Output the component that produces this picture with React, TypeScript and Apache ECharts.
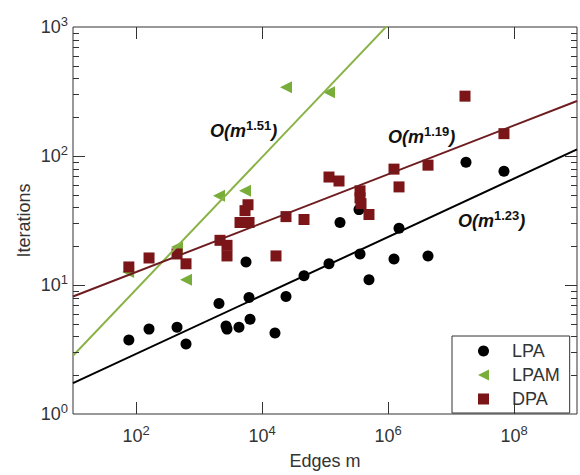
import React, { useEffect, useRef } from "react";
import * as echarts from "echarts";

// Edges m (x) and Iterations (y)
const lpaEdges = [77, 161, 448, 622, 2075, 2685, 2783, 4312, 6457, 5574, 16070, 6223, 24040, 46420, 115700, 173000, 346700, 359700, 499000, 1245000, 1496000, 4315000, 17300000, 69300000];
const lpaIters = [3.75, 4.55, 4.71, 3.49, 7.2, 4.8, 4.55, 4.71, 5.43, 15.1, 4.24, 8.0, 8.14, 11.8, 14.6, 30.5, 38.4, 17.4, 11.0, 15.9, 27.5, 16.8, 89.4, 76.3];

const lpamEdges = [75, 448, 622, 2075, 5373, 24040, 115700];
const lpamIters = [12.6, 19.7, 11.0, 49.1, 53.7, 341, 312];

const dpaEdges = [77, 161, 448, 622, 2154, 2783, 2783, 4477, 6223, 5373, 5995, 16680, 24040, 46420, 115700, 166800, 359700, 359700, 372800, 499000, 1245000, 1496000, 4315000, 16680000, 69300000];
const dpaIters = [13.8, 16.2, 17.4, 14.6, 22.2, 20.3, 16.8, 30.5, 30.5, 37.7, 41.9, 16.8, 33.9, 32.2, 68.7, 64.0, 53.7, 47.4, 42.7, 35.2, 79.1, 57.6, 84.9, 291, 149];

// fitted power-law lines (endpoints)
const fitLpa = [[10, 1.736], [1e9, 112.5]];
const fitLpam = [[10, 2.83], [1e9, 35970]];
const fitDpa = [[10, 8.14], [1e9, 267]];

const fitLabels = [
  { text: "1.51", x: 210, y: 131 },
  { text: "1.19", x: 388, y: 137 },
  { text: "1.23", x: 458, y: 221 },
];

const seriesNames = ["LPA", "LPAM", "DPA"];
const xMajorTicks = [1e2, 1e4, 1e6, 1e8];
const yMajorTicks = [10, 100];
const yDecades = [1, 10, 100];
const xRange = [10, 1e9];
const yRange = [1, 1000];

const FONT = "'Liberation Sans', Arial, sans-serif";
const AXIS = "#333";
const LEFT_TRIANGLE = "path://M0,5L10,0L10,10Z";

const zip = (a: number[], b: number[]) => a.map((v, i) => [v, b[i]]);

const powLabel = (isX: boolean) => (v: number) => {
  const e = Math.round(Math.log10(v));
  if (isX && e % 2 !== 0) return "";
  return `{b|10}{s|${e}}`;
};

const labelRich = {
  b: { fontSize: 18, fontFamily: FONT, color: AXIS, lineHeight: 24 },
  s: { fontSize: 13, fontFamily: FONT, color: AXIS, lineHeight: 6, verticalAlign: "top" },
};

export default function App() {
  const ref = useRef<HTMLDivElement>(null);
  useEffect(() => {
    const chart = echarts.init(ref.current!, undefined, { renderer: "svg" });
    const option: any = {
      animation: false,
      backgroundColor: "#fff",
      grid: { left: 73, right: 3, top: 27, bottom: 56, show: true, borderColor: AXIS, borderWidth: 1, backgroundColor: "transparent" },
      xAxis: {
        type: "log",
        logBase: 10,
        min: xRange[0],
        max: xRange[1],
        name: "Edges m",
        nameLocation: "middle",
        nameGap: 38,
        nameMoveOverlap: false,
        nameTextStyle: { fontSize: 18, fontFamily: FONT, color: AXIS },
        axisLine: { show: false },
        axisTick: { show: false },
        splitLine: { show: false },
        axisLabel: { margin: 10, formatter: powLabel(true), rich: labelRich },
      },
      yAxis: {
        type: "log",
        logBase: 10,
        min: yRange[0],
        max: yRange[1],
        name: "Iterations",
        nameLocation: "middle",
        nameGap: 40,
        nameMoveOverlap: false,
        nameTextStyle: { fontSize: 18, fontFamily: FONT, color: AXIS },
        axisLine: { show: false },
        axisTick: { show: false },
        splitLine: { show: false },
        axisLabel: { margin: 5, formatter: powLabel(false), rich: labelRich },
      },
      legend: {
        data: [
          { name: seriesNames[0], icon: "circle" },
          { name: seriesNames[1], icon: LEFT_TRIANGLE },
          { name: seriesNames[2], icon: "rect" },
        ],
        orient: "vertical",
        left: 452,
        top: 336,
        padding: [4, 10, 3, 26],
        itemGap: 2,
        itemWidth: 11,
        itemHeight: 11,
        borderColor: AXIS,
        borderWidth: 1,
        borderRadius: 0,
        backgroundColor: "#fff",
        textStyle: { fontSize: 18, fontFamily: FONT, color: AXIS, lineHeight: 22, padding: [0, 0, 0, 18] },
      },
      graphic: fitLabels.map((f) => ({
        type: "text",
        x: f.x,
        y: f.y,
        z: 10,
        style: {
          text: `{a|O(m}{b|${f.text}}{a|)}`,
          verticalAlign: "middle",
          rich: {
            a: { fontSize: 18, fontWeight: "bold", fontStyle: "italic", fontFamily: FONT, fill: "#111", lineHeight: 24 },
            b: { fontSize: 13, fontWeight: "bold", fontFamily: FONT, fill: "#111", lineHeight: 12, verticalAlign: "top" },
          },
        },
      })),
      series: [
        {
          name: "LPA",
          type: "scatter",
          symbol: "circle",
          symbolSize: 11,
          itemStyle: { color: "#000", opacity: 1 },
          data: zip(lpaEdges, lpaIters),
          z: 2,
        },
        {
          name: "LPAM",
          type: "scatter",
          symbol: "triangle",
          symbolRotate: 90,
          symbolSize: 12,
          itemStyle: { color: "#78ad3a", opacity: 1 },
          data: zip(lpamEdges, lpamIters),
          z: 2,
        },
        {
          name: "DPA",
          type: "scatter",
          symbol: "rect",
          symbolSize: 11,
          itemStyle: { color: "#7b1518", opacity: 1 },
          data: zip(dpaEdges, dpaIters),
          z: 2,
        },
        {
          name: "fitLPA",
          type: "line",
          data: fitLpa,
          showSymbol: false,
          clip: true,
          lineStyle: { color: "#000", width: 2 },
          z: 3,
        },
        {
          name: "fitLPAM",
          type: "line",
          data: fitLpam,
          showSymbol: false,
          clip: true,
          lineStyle: { color: "#8ab347", width: 2 },
          z: 3,
        },
        {
          name: "fitDPA",
          type: "line",
          data: fitDpa,
          showSymbol: false,
          clip: true,
          lineStyle: { color: "#6e1c20", width: 2 },
          z: 3,
        },
        {
          name: "ticks",
          type: "custom",
          silent: true,
          z: 5,
          data: [[xRange[0], yRange[0]]],
          renderItem: (_p: any, api: any) => {
            const children: any[] = [];
            const [xl, yb] = api.coord([xRange[0], yRange[0]]);
            const [xr, yt] = api.coord([xRange[1], yRange[1]]);
            const ln = (x1: number, y1: number, x2: number, y2: number) => ({
              type: "line",
              shape: { x1, y1, x2, y2 },
              style: { stroke: AXIS, lineWidth: 1 },
            });
            for (const t of xMajorTicks) {
              const x = Math.round(api.coord([t, yRange[0]])[0]) + 0.5;
              children.push(ln(x, yb, x, yb - 12));
              children.push(ln(x, yt, x, yt + 12));
            }
            for (const t of yMajorTicks) {
              const y = Math.round(api.coord([xRange[0], t])[1]) + 0.5;
              children.push(ln(xl, y, xl + 12, y));
              children.push(ln(xr, y, xr - 12, y));
            }
            for (const d of yDecades) {
              for (let k = 2; k <= 9; k++) {
                const y = Math.round(api.coord([xRange[0], k * d])[1]) + 0.5;
                children.push(ln(xl, y, xl + 6, y));
                children.push(ln(xr, y, xr - 6, y));
              }
            }
            return { type: "group", children };
          },
        },
      ],
    };
    chart.setOption(option);
    return () => chart.dispose();
  }, []);
  return <div ref={ref} style={{ width: 580, height: 475, position: "absolute", left: 0, top: 0 }} />;
}
